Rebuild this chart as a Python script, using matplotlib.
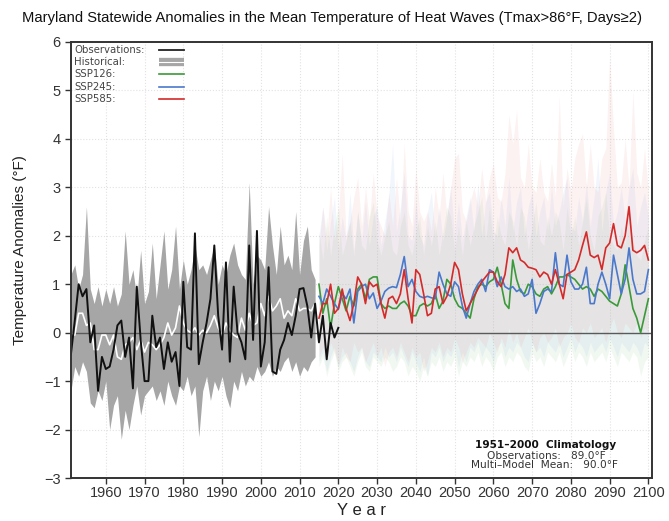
import numpy as np
import matplotlib.pyplot as plt

# observations 1951-2020
obs_years = np.arange(1951, 2021)
obs = [-0.45, 0.25, 1.0, 0.75, 0.9, -0.2, 0.15, -1.2, -0.5, -0.75,
       -0.7, -0.35, 0.15, 0.25, -0.5, -0.1, -1.15, 0.95, -0.15, -1.0,
       -1.0, 0.35, -0.3, -0.1, -0.75, -0.2, -0.6, -0.4, -1.1, 1.05,
       -0.3, -0.35, 2.05, -0.65, -0.2, 0.2, 0.7, 1.8, 0.35, -0.35,
       1.45, -0.6, 0.95, 0.0, -0.2, -0.55, 1.8, -0.15, 2.1, -0.7,
       -0.2, 1.35, -0.8, -0.85, -0.35, -0.15, 0.2, -0.05, 0.35, 0.9,
       0.92, 0.55, -0.1, 0.6, -0.2, 0.35, -0.55, 0.2, -0.1, 0.1]

# historical multi-model: mean and spread 1951-2014
hist_years = np.arange(1951, 2015)
hist_mean = [0.0, -0.05, 0.4, 0.4, 0.15, 0.2, -0.35, -0.35, -0.05, -0.05,
             -0.25, -0.05, -0.5, -0.55, -0.25, -0.2, -0.1, -0.35, -0.15, -0.4,
             -0.2, -0.25, -0.35, -0.25, -0.1, 0.2, -0.05, 0.1, 0.55, 0.2,
             0.05, 0.0, 0.1, -0.05, 0.05, 0.0, 0.15, 0.35, 0.1, -0.05,
             0.2, 0.05, -0.05, -0.1, 0.3, 0.05, 0.4, 0.15, 0.2, 0.6,
             0.35, 0.75, 0.45, 0.55, 0.7, 0.3, 0.45, 0.35, 0.7, 0.45,
             0.5, 0.5, 0.45, 0.6]
hist_hi = [1.2, 1.4, 0.9, 1.2, 2.6, 0.9, 0.6, 0.95, 0.55, 0.9,
           0.6, 0.95, 0.55, 0.8, 2.1, 1.0, 1.3, 0.7, 1.7, 0.6,
           0.85, 1.85, 0.7, 1.4, 2.1, 0.9, 1.3, 2.2, 0.9, 1.5,
           1.0, 1.3, 1.8, 1.3, 1.4, 1.2, 1.5, 1.8, 1.0, 1.4,
           1.2, 1.6, 1.85, 1.4, 1.2, 1.1, 3.1, 1.0, 1.6, 1.5,
           1.3, 2.6, 1.8, 1.2, 2.2, 1.4, 1.6, 1.3, 2.5, 1.2,
           1.9, 2.2, 1.3, 1.1]
hist_lo = [-1.2, -0.7, -0.9, -0.6, -0.8, -1.45, -1.55, -1.2, -1.4, -1.0,
           -2.0, -1.5, -1.3, -2.2, -1.6, -2.0, -1.5, -1.1, -1.7, -1.3,
           -1.2, -1.1, -1.4, -1.2, -1.5, -1.0, -1.3, -1.5, -1.1, -1.2,
           -0.9, -1.3, -1.1, -2.15, -1.2, -0.9, -1.4, -1.0, -1.2, -0.9,
           -1.3, -1.55, -1.0, -1.2, -0.8, -1.1, -0.9, -1.0, -0.7, -0.9,
           -0.8, -0.6, -0.9, -0.7, -0.8, -0.6, -0.5, -0.8, -0.6, -0.9,
           -0.7, -0.8, -0.6, -0.5]

# scenarios 2015-2100
ssp_years = np.arange(2015, 2101)
ssp126 = [1.0, 0.4, 0.7, 0.1, 0.6, 0.95, 0.7, 0.45, 0.75, 0.55,
          0.9, 1.0, 0.7, 1.1, 1.15, 1.15, 0.6, 0.5, 0.55, 0.5,
          0.5, 0.6, 0.65, 0.55, 0.35, 0.35, 0.55, 0.6, 0.55, 0.6,
          0.8, 0.5, 0.65, 1.1, 1.0, 0.7, 0.55, 0.5, 0.4, 0.3,
          0.7, 0.95, 1.0, 0.95, 1.05, 1.1, 1.35, 1.0, 0.6, 0.5,
          1.5, 1.1, 0.85, 0.8, 1.0, 0.95, 0.8, 0.75, 0.9, 0.95,
          0.8, 0.95, 1.15, 1.15, 1.2, 1.15, 1.1, 1.0, 0.9, 0.95,
          0.9, 0.75, 0.9, 0.85, 0.75, 0.65, 0.6, 0.55, 0.8, 1.4,
          0.95, 0.5, 0.3, 0.0, 0.35, 0.7]
ssp245 = [0.75, 0.6, 0.9, 0.75, 0.6, 0.48, 0.8, 0.7, 0.9, 0.2,
          0.85, 0.95, 1.0, 0.7, 0.82, 0.5, 0.65, 0.85, 0.92, 0.95,
          0.93, 1.2, 1.57, 0.95, 1.1, 0.85, 0.75, 0.72, 0.75, 0.72,
          0.7, 1.25, 1.0, 0.8, 0.75, 1.05, 0.95, 0.55, 0.3, 0.6,
          0.85, 1.0, 1.1, 0.85, 1.3, 1.25, 0.95, 1.15, 0.95, 0.9,
          0.95, 0.85, 0.9, 0.75, 0.8, 1.1, 0.4, 0.6, 0.85, 0.9,
          0.85, 1.65, 1.0, 0.95, 1.6, 1.05, 0.9, 0.9, 1.0, 1.35,
          0.6, 0.6, 1.0, 1.25, 1.0, 0.7, 1.6, 1.2, 0.8, 1.1,
          1.75, 1.1, 0.8, 0.8, 0.85, 1.3]
ssp585 = [0.3, 0.6, 0.6, 1.0, 0.4, 0.5, 0.9, 0.5, 0.25, 0.6,
          1.15, 1.0, 0.6, 1.05, 0.95, 1.0, 0.6, 0.3, 0.7, 0.75,
          0.6, 0.8, 1.3, 0.7, 0.2, 1.3, 1.2, 0.8, 0.35, 0.4,
          0.9, 0.95, 0.6, 0.75, 1.0, 1.45, 1.3, 0.8, 0.45, 0.6,
          0.75, 0.9, 1.05, 1.15, 1.25, 1.25, 1.05, 0.95, 1.2, 1.75,
          1.65, 1.75, 1.5, 1.45, 1.35, 1.33, 1.3, 1.15, 1.25, 1.2,
          1.0, 1.3, 1.0, 0.7, 1.2, 1.25, 1.3, 1.5, 1.8, 2.08,
          1.6, 1.55, 1.6, 1.3, 1.75, 1.85, 2.25, 1.8, 1.75, 2.0,
          2.6, 1.7, 1.65, 1.7, 1.8, 1.5]

# model spread (min / max) for each scenario
ssp126_hi = [2.1, 1.5, 2.4, 1.6, 2.2, 2.6, 1.6, 1.9, 2.3, 1.6,
             2.5, 1.8, 1.7, 2.4, 2.7, 1.9, 1.6, 2.0, 2.3, 1.7,
             1.6, 2.2, 2.5, 1.8, 1.6, 2.1, 2.4, 1.6, 2.2, 1.8,
             2.3, 1.6, 2.1, 2.6, 2.4, 1.7, 2.2, 1.6, 2.3, 1.8,
             2.2, 2.5, 2.8, 1.9, 2.6, 1.8, 2.4, 2.0, 1.8, 2.5,
             2.3, 1.8, 2.6, 2.4, 1.7, 2.2, 2.7, 1.9, 1.8, 2.4,
             2.0, 2.5, 2.3, 1.7, 2.6, 2.0, 2.4, 1.8, 2.3, 2.8,
             2.0, 1.7, 2.4, 2.6, 2.9, 2.0, 1.8, 1.7, 2.2, 1.8,
             2.4, 1.9, 1.6, 1.5, 1.9, 2.2]
ssp126_lo = [-0.7, -0.5, -0.9, -0.6, -0.4, -0.8, -0.6, -0.5, -0.7, -0.9,
             -0.6, -0.4, -0.7, -0.8, -0.5, -0.6, -0.7, -0.5, -0.6, -0.8,
             -0.7, -0.5, -0.6, -0.9, -0.7, -0.8, -1.0, -0.7, -0.9, -0.6,
             -0.7, -0.5, -0.8, -0.6, -0.7, -0.5, -0.9, -0.6, -0.7, -0.5,
             -0.6, -0.4, -0.7, -0.5, -0.6, -0.8, -0.5, -0.4, -0.7, -0.5,
             -0.6, -0.4, -0.5, -0.7, -0.8, -0.4, -0.6, -0.5, -0.7, -0.4,
             -0.5, -0.6, -0.4, -0.7, -0.5, -0.3, -0.6, -0.4, -0.5, -0.7,
             -0.4, -0.6, -0.5, -0.4, -0.6, -0.3, -0.5, -0.7, -0.4, -0.5,
             -0.6, -0.4, -0.5, -0.9, -0.6, -0.5]
ssp245_hi = [2.0, 2.6, 1.7, 2.3, 2.8, 1.7, 2.4, 1.9, 2.9, 1.7,
             2.5, 1.9, 2.7, 1.8, 2.4, 2.6, 1.8, 2.3, 2.8, 3.9,
             2.1, 2.6, 3.3, 2.0, 1.9, 2.7, 2.0, 1.8, 2.5, 2.9,
             2.0, 2.6, 1.9, 2.4, 3.0, 2.0, 2.7, 1.9, 2.4, 2.8,
             2.1, 3.1, 2.0, 2.7, 2.9, 2.1, 2.0, 2.8, 2.2, 3.2,
             2.1, 2.7, 3.0, 2.0, 2.6, 2.9, 2.0, 2.5, 2.8, 2.1,
             3.0, 2.2, 2.5, 2.9, 3.2, 2.2, 2.1, 2.8, 2.3, 3.1,
             2.2, 2.8, 3.6, 2.1, 2.9, 3.3, 2.2, 2.5, 3.0, 2.3,
             3.0, 3.4, 2.2, 2.6, 2.9, 2.4]
ssp245_lo = [-0.6, -0.4, -0.8, -0.5, -0.3, -0.7, -0.5, -0.4, -0.6, -0.8,
             -0.5, -0.3, -0.6, -0.7, -0.4, -0.5, -0.6, -0.3, -0.5, -0.4,
             -0.6, -0.3, -0.5, -0.7, -0.4, -0.6, -0.8, -0.5, -0.9, -0.4,
             -0.5, -0.3, -0.6, -0.4, -0.5, -0.3, -0.7, -0.4, -0.6, -0.3,
             -0.4, -0.2, -0.5, -0.3, -0.4, -0.6, -0.3, -0.2, -0.5, -0.3,
             -0.4, -0.2, -0.3, -0.5, -0.6, -0.2, -0.4, -0.3, -0.5, -0.2,
             -0.3, -0.4, -0.2, -0.5, -0.3, -0.1, -0.4, -0.2, -0.3, -0.5,
             -0.2, -0.4, -0.3, -0.2, -0.4, -0.1, -0.3, -0.5, -0.2, -0.3,
             -0.4, -0.2, -0.3, -0.5, -0.2, -0.3]
ssp585_hi = [1.8, 2.6, 2.0, 3.0, 1.9, 2.4, 3.7, 2.0, 2.3, 2.8,
             3.2, 2.2, 3.0, 2.3, 3.3, 2.4, 2.2, 2.0, 2.9, 2.2,
             3.2, 2.3, 3.9, 2.5, 2.2, 3.4, 2.5, 2.3, 2.5, 2.1,
             3.0, 2.4, 3.3, 2.4, 3.0, 3.6, 3.7, 2.5, 2.3, 2.7,
             3.0, 2.6, 3.4, 2.7, 3.2, 3.5, 2.8, 2.7, 3.3, 4.5,
             3.9, 4.6, 3.2, 3.0, 3.9, 3.0, 2.9, 3.6, 2.9, 2.7,
             3.5, 2.8, 4.9, 2.6, 3.4, 2.9, 3.6, 3.9, 4.1, 3.0,
             3.9, 3.0, 2.9, 3.6, 3.8, 5.7, 4.2, 3.0, 3.1, 4.0,
             3.0, 5.0, 3.3, 3.0, 3.8, 2.9]
ssp585_lo = [-0.5, -0.3, -0.6, -0.2, -0.4, -0.7, -0.3, -0.5, -0.6, -0.2,
             -0.4, -0.3, -0.6, -0.4, -0.2, -0.5, -0.3, -0.7, -0.4, -0.3,
             -0.5, -0.2, -0.4, -0.6, -0.3, -0.5, -0.4, -0.8, -0.6, -0.3,
             -0.4, -0.2, -0.5, -0.3, -0.4, -0.1, -0.3, -0.6, -0.4, -0.2,
             -0.3, -0.1, -0.2, -0.3, 0.0, -0.2, -0.4, -0.1, -0.3, 0.1,
             -0.2, 0.0, -0.3, -0.1, 0.1, -0.2, -0.4, -0.1, 0.0, -0.2,
             -0.1, 0.1, -0.3, -0.1, 0.0, 0.2, -0.1, -0.2, 0.1, 0.0,
             0.2, -0.1, 0.0, 0.1, -0.2, 0.1, 0.3, 0.0, -0.1, 0.2,
             0.1, 0.0, 0.2, -0.1, 0.1, 0.0]

green = '#3a9a3a'
blue = '#4a78cc'
red = '#d42a2a'
font = ['Liberation Sans', 'DejaVu Sans']

fig = plt.figure(figsize=(6.69, 5.21), dpi=100)
ax = fig.add_axes([0.106, 0.0825, 0.869, 0.837])

ax.set_xlim(1951, 2101)
ax.set_ylim(-3, 6)
ax.set_xticks(np.arange(1960, 2101, 10))
ax.set_yticks(np.arange(-3, 7, 1))
ax.grid(True, color='#e2e2e2', linestyle=':', linewidth=0.8)
ax.set_axisbelow(True)

# model spread
ax.fill_between(ssp_years, ssp126_lo, ssp126_hi, color='#7cc47c', alpha=0.10, lw=0)
ax.fill_between(ssp_years, ssp245_lo, ssp245_hi, color='#7ea4e6', alpha=0.10, lw=0)
ax.fill_between(ssp_years, ssp585_lo, ssp585_hi, color='#ee8a8a', alpha=0.11, lw=0)
ax.fill_between(hist_years, hist_lo, hist_hi, color='#a6a6a6', lw=0)

ax.axhline(0, color='#5a5a5a', lw=1.0)

ax.plot(ssp_years, ssp126, color=green, lw=1.2)
ax.plot(ssp_years, ssp245, color=blue, lw=1.2)
ax.plot(ssp_years, ssp585, color=red, lw=1.2)
ax.plot(hist_years, hist_mean, color='white', lw=1.2)
ax.plot(obs_years, obs, color='#111111', lw=1.4)

for s in ax.spines.values():
    s.set_linewidth(1.4)
    s.set_color('#333333')
ax.tick_params(direction='out', length=4, width=1, colors='#333333',
               labelsize=10.5)
ax.tick_params(axis='x', pad=2)
for lab in ax.get_xticklabels() + ax.get_yticklabels():
    lab.set_family(font)

# legend drawn by hand so texts are left aligned and keys line up
leg_labels = ['Observations:', 'Historical:', 'SSP126:', 'SSP245:', 'SSP585:']
leg_y = [0.982, 0.954, 0.926, 0.897, 0.869]
for lab, y in zip(leg_labels, leg_y):
    ax.text(0.006, y, lab, transform=ax.transAxes, fontsize=7.3,
            color='#444444', va='center', ha='left', family='DejaVu Sans')
kx = [0.151, 0.195]
ax.plot(kx, [leg_y[0]] * 2, transform=ax.transAxes, color='#222222', lw=1.3)
ax.plot(kx, [leg_y[1]] * 2, transform=ax.transAxes, color='#a6a6a6', lw=6,
        solid_capstyle='butt')
ax.plot(kx, [leg_y[1]] * 2, transform=ax.transAxes, color='white', lw=0.8)
ax.plot(kx, [leg_y[2]] * 2, transform=ax.transAxes, color=green, lw=1.2)
ax.plot(kx, [leg_y[3]] * 2, transform=ax.transAxes, color=blue, lw=1.2)
ax.plot(kx, [leg_y[4]] * 2, transform=ax.transAxes, color=red, lw=1.2)

# climatology text
ax.text(0.816, 0.076, '1951\u20132000  Climatology', transform=ax.transAxes,
        fontsize=7.6, fontweight='bold', ha='center', va='center', color='#111111')
ax.text(0.818, 0.051, 'Observations:   89.0\u00b0F', transform=ax.transAxes,
        fontsize=7.6, ha='center', va='center', color='#333333')
ax.text(0.815, 0.030, 'Multi\u2013Model  Mean:   90.0\u00b0F', transform=ax.transAxes,
        fontsize=7.6, ha='center', va='center', color='#333333')

fig.text(0.497, 0.965, 'Maryland Statewide Anomalies in the Mean Temperature of '
         'Heat Waves (Tmax>86\u00b0F, Days\u22652)', ha='center', va='center',
         fontsize=10.6, family=font, color='#111111')
fig.text(0.030, 0.52, 'Temperature Anomalies (\u00b0F)', rotation=90,
         ha='center', va='center', fontsize=11, family=font, color='#222222')
fig.text(0.54, 0.021, 'Y e a r', ha='center', va='center', fontsize=12,
         family=font, color='#222222')

fig.savefig('out.png', dpi=100)
